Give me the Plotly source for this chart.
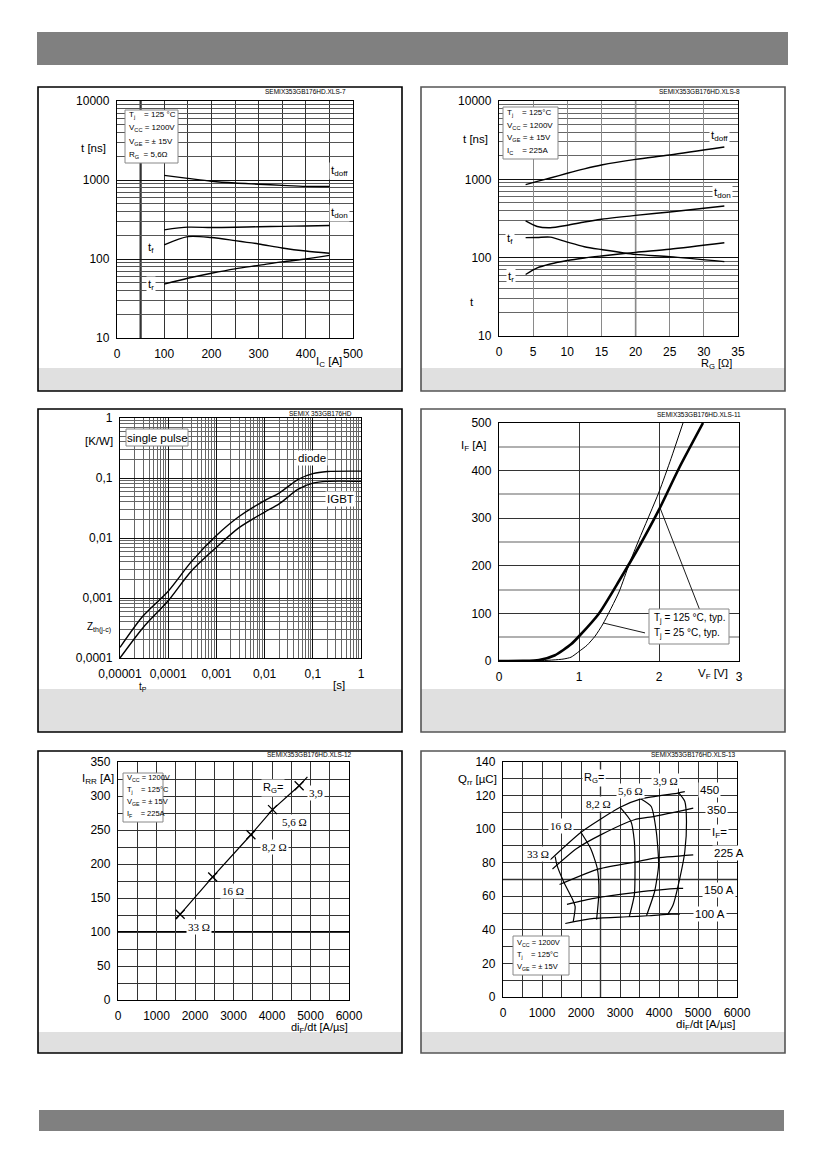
import plotly.graph_objects as go

W, H = 826, 1169
SANS = "Liberation Sans, Arial, sans-serif"
SERIF = "Liberation Serif, Times New Roman, serif"

# --- fig 1: switching times vs I_C ---
ic_a = [100, 150, 200, 250, 300, 350, 400, 450]
ic_tdoff = [1145, 1050, 965, 915, 885, 855, 830, 828]
ic_tdon = [234, 253, 250, 252, 256, 259, 262, 265]
ic_tf = [151, 192, 187, 171, 155, 138, 126, 118]
ic_tr = [48, 57, 66, 75, 83, 92, 100, 111]

# --- fig 2: switching times vs R_G ---
rg_ohm = [3.9, 5.6, 7.5, 10, 12.5, 15, 20, 25, 33]
rg_tdoff = [855, 940, 1040, 1194, 1360, 1524, 1800, 2046, 2588]
rg_tdon = [294, 250, 241, 259, 285, 309, 347, 383, 457]
rg_tf = [180, 181, 183, 158, 138, 127, 110, 103, 89]
rg_tr = [61, 74, 83, 92, 99, 105, 117, 128, 155]

# --- fig 3: transient thermal impedance ---
tp_s = [1e-5, 3e-5, 1e-4, 3e-4, 1e-3, 3e-3, 1e-2, 2e-2, 5e-2, 0.1, 0.2, 1]
zth_diode = [1.5e-4, 5e-4, 1.3e-3, 4e-3, 1.1e-2, 2.3e-2, 4.2e-2, 5.6e-2, 9.5e-2, 0.118, 0.128, 0.13]
zth_igbt = [1.0e-4, 3.2e-4, 9e-4, 2.8e-3, 7e-3, 1.5e-2, 2.7e-2, 3.7e-2, 6.5e-2, 0.082, 0.088, 0.088]
zth_ticks = [1e-4, 1e-3, 1e-2, 0.1, 1]
zth_ticktext = ["0,0001", "0,001", "0,01", "0,1", "1"]
tp_ticks = [1e-5, 1e-4, 1e-3, 1e-2, 0.1, 1]
tp_ticktext = ["0,00001", "0,0001", "0,001", "0,01", "0,1", "1"]

# --- fig 4: diode forward characteristic ---
vf_125 = [0, 0.3, 0.5, 0.7, 0.9, 1.0, 1.25, 1.5, 1.75, 2.0, 2.25, 2.55]
if_125 = [0, 0.2, 2, 12, 35, 52, 100, 168, 240, 318, 405, 500]
vf_25 = [0, 0.5, 0.8, 0.9, 1.0, 1.1, 1.2, 1.3, 1.5, 1.63, 1.75, 2.0, 2.15, 2.3]
if_25 = [0, 0.5, 4, 8, 20, 33, 52, 78, 145, 205, 255, 355, 425, 500]

# --- fig 5: peak reverse recovery current ---
didt_rr = [1614, 2460, 3453, 4014, 4705]
irr_a = [126, 181, 243, 280, 315]
rr_fit_didt = [1510, 1614, 2460, 3453, 4014, 4705, 4920]
rr_fit_irr = [119, 126, 181, 243, 280, 315, 328]
rr_labels = ["33 Ω", "16 Ω", "8,2 Ω", "5,6 Ω", "3,9"]

# --- fig 6: recovered charge ---
qrr_450_x = [1209, 2003, 3004, 3540, 4489, 4662]
qrr_450_y = [81.7, 98.2, 113, 118, 121.5, 122.3]
qrr_350_x = [1269, 1900, 2504, 3368, 3886, 4878]
qrr_350_y = [76.3, 88.6, 96.6, 105.6, 107.6, 112.5]
qrr_225_x = [1450, 2460, 3453, 3886, 4878]
qrr_225_y = [67, 76.3, 80.7, 82.7, 84.7]
qrr_150_x = [1640, 2331, 3367, 4490, 4619]
qrr_150_y = [55.2, 58.8, 62.2, 64.7, 64.7]
qrr_100_x = [1597, 2331, 3194, 3713, 4317, 4533]
qrr_100_y = [43.8, 46.8, 47.8, 48.4, 49.4, 49.4]
qrr_rg33_x = [1338, 1382, 1555, 1770, 1850, 1800]
qrr_rg33_y = [83.7, 78.7, 68.7, 58.8, 53.8, 44.8]
qrr_rg16_x = [1986, 2245, 2417, 2460, 2400]
qrr_rg16_y = [98.6, 88.6, 76.7, 62.7, 46.2]
qrr_rg82_x = [3004, 3281, 3368, 3385, 3368, 3238]
qrr_rg82_y = [113, 104.6, 92.6, 76.7, 60.8, 47.8]
qrr_rg56_x = [3540, 3800, 3930, 3990, 3886, 3679]
qrr_rg56_y = [118, 113.5, 98.6, 78.7, 62.7, 48.4]
qrr_rg39_x = [4489, 4662, 4705, 4662, 4533, 4360, 4230]
qrr_rg39_y = [122, 116.5, 104.6, 86.7, 70.7, 54.8, 49.4]


def px(x):
    return x / W


def py(y):
    return 1 - y / H


def minor_log(e0, e1):
    return [m * 10 ** e for e in range(e0, e1) for m in range(2, 10)]


fig = go.Figure()
curve = dict(color="black", width=1.4, shape="spline", smoothing=0.8)


def add_line(x, y, i, **kw):
    ln = dict(curve)
    ln.update(kw)
    fig.add_trace(go.Scatter(x=x, y=y, mode="lines", line=ln, hoverinfo="skip",
                             xaxis="x" + str(i), yaxis="y" + str(i)))


for yy in (ic_tdoff, ic_tdon, ic_tf, ic_tr):
    add_line(ic_a, yy, 1)
for yy in (rg_tdoff, rg_tdon, rg_tf, rg_tr):
    add_line(rg_ohm, yy, 2)
add_line(tp_s, zth_diode, 3)
add_line(tp_s, zth_igbt, 3)
add_line(vf_125, if_125, 4, width=2.6, smoothing=0.6)
add_line(vf_25, if_25, 4, width=1.0, smoothing=0.6)
add_line(rr_fit_didt, rr_fit_irr, 5, shape="linear", width=1.2)
fig.add_trace(go.Scatter(x=didt_rr, y=irr_a, mode="markers", hoverinfo="skip",
                         marker=dict(symbol="x-thin", size=9, line=dict(width=1.3, color="black")),
                         xaxis="x5", yaxis="y5"))
for xx, yy in ((qrr_450_x, qrr_450_y), (qrr_350_x, qrr_350_y), (qrr_225_x, qrr_225_y),
               (qrr_150_x, qrr_150_y), (qrr_100_x, qrr_100_y), (qrr_rg33_x, qrr_rg33_y),
               (qrr_rg16_x, qrr_rg16_y), (qrr_rg82_x, qrr_rg82_y), (qrr_rg56_x, qrr_rg56_y),
               (qrr_rg39_x, qrr_rg39_y)):
    add_line(xx, yy, 6, width=1.2, smoothing=0.6)

# --- axes ---
tickfont = dict(family=SANS, size=12, color="black")


def base_axis(x0, x1, **kw):
    d = dict(domain=[x0, x1], showline=True, mirror=True, linecolor="black", linewidth=1.3,
             ticks="", zeroline=False, showgrid=True, tickfont=tickfont, fixedrange=True,
             automargin=False, ticklabelstandoff=4)
    d.update(kw)
    return d


panels = {
    1: (117, 353, 101, 338),
    2: (499, 738, 101, 336),
    3: (120, 361, 418, 658),
    4: (499, 739, 423, 661),
    5: (118, 349, 762, 1000),
    6: (503, 737, 762, 997),
}

lay = {}
l, r, t, b = panels[1]
lay["xaxis"] = base_axis(px(l), px(r), anchor="y", range=[0, 500], dtick=100, tick0=0,
                         gridcolor="#333", gridwidth=1,
                         minor=dict(dtick=50, showgrid=True, gridcolor="#333", gridwidth=1))
lay["yaxis"] = base_axis(py(b), py(t), anchor="x", type="log", range=[1, 4],
                         tickvals=[10, 100, 1000, 10000], ticktext=["10", "100", "1000", "10000"],
                         gridcolor="#111", gridwidth=1.2,
                         minor=dict(tickmode="array", tickvals=minor_log(1, 4), showgrid=True,
                                    gridcolor="#555", gridwidth=1))
l, r, t, b = panels[2]
lay["xaxis2"] = base_axis(px(l), px(r), anchor="y2", range=[0, 35], dtick=5, tick0=0,
                          gridcolor="#8a8a8a", gridwidth=1.3)
lay["yaxis2"] = base_axis(py(b), py(t), anchor="x2", type="log", range=[1, 4],
                          tickvals=[10, 100, 1000, 10000], ticktext=["10", "100", "1000", "10000"],
                          gridcolor="#111", gridwidth=1.2,
                          minor=dict(tickmode="array", tickvals=minor_log(1, 4), showgrid=True,
                                     gridcolor="#666", gridwidth=1))
l, r, t, b = panels[3]
lay["xaxis3"] = base_axis(px(l), px(r), anchor="y3", type="log", range=[-5, 0],
                          tickvals=tp_ticks, ticktext=tp_ticktext, gridcolor="#111", gridwidth=1,
                          minor=dict(tickmode="array", tickvals=minor_log(-5, 0), showgrid=True,
                                     gridcolor="#666", gridwidth=1))
lay["yaxis3"] = base_axis(py(b), py(t), anchor="x3", type="log", range=[-4, 0],
                          tickvals=zth_ticks, ticktext=zth_ticktext, gridcolor="#111", gridwidth=1,
                          minor=dict(tickmode="array", tickvals=minor_log(-4, 0), showgrid=True,
                                     gridcolor="#666", gridwidth=1))
l, r, t, b = panels[4]
lay["xaxis4"] = base_axis(px(l), px(r), anchor="y4", range=[0, 3], dtick=1, tick0=0,
                          gridcolor="#333", gridwidth=0.8)
lay["yaxis4"] = base_axis(py(b), py(t), anchor="x4", range=[0, 500], dtick=100, tick0=0,
                          gridcolor="#333", gridwidth=0.8,
                          minor=dict(dtick=50, showgrid=True, gridcolor="#b0b0b0", gridwidth=1.6))
l, r, t, b = panels[5]
lay["xaxis5"] = base_axis(px(l), px(r), anchor="y5", range=[0, 6000], dtick=1000, tick0=0,
                          gridcolor="#333", gridwidth=1,
                          minor=dict(dtick=500, showgrid=True, gridcolor="#333", gridwidth=1))
lay["yaxis5"] = base_axis(py(b), py(t), anchor="x5", range=[0, 350], dtick=50, tick0=0,
                          gridcolor="#333", gridwidth=1,
                          minor=dict(dtick=25, showgrid=True, gridcolor="#333", gridwidth=1))
l, r, t, b = panels[6]
lay["xaxis6"] = base_axis(px(l), px(r), anchor="y6", range=[0, 6000], dtick=1000, tick0=0,
                          gridcolor="#333", gridwidth=1,
                          minor=dict(dtick=500, showgrid=True, gridcolor="#333", gridwidth=1))
lay["yaxis6"] = base_axis(py(b), py(t), anchor="x6", range=[0, 140], dtick=20, tick0=0,
                          gridcolor="#333", gridwidth=1,
                          minor=dict(dtick=10, showgrid=True, gridcolor="#333", gridwidth=1))

fig.update_layout(width=W, height=H, margin=dict(l=0, r=0, t=0, b=0, pad=0, autoexpand=False),
                  paper_bgcolor="white", plot_bgcolor="white", showlegend=False, **lay)

# --- page frame: header, footer, panel boxes ---
shapes = []


def prect(x0, y0, x1, y1, fill=None, line=None, lw=0):
    shapes.append(dict(type="rect", xref="paper", yref="paper", x0=px(x0), x1=px(x1),
                       y0=py(y1), y1=py(y0), fillcolor=fill or "rgba(0,0,0,0)",
                       line=dict(color=line or "rgba(0,0,0,0)", width=lw), layer="above"))


prect(37, 32, 788, 65, fill="#808080")
prect(39, 1110, 784, 1131, fill="#808080")
rows = [(87, 368, 391), (409, 689, 732), (751, 1032, 1053)]
for top, cap, bot in rows:
    for x0, x1, col in ((38, 402, "black"), (421, 785, "#555")):
        prect(x0, cap, x1, bot, fill="#e0e0e0")
        prect(x0, top, x1, bot, line=col, lw=1.6)

# emphasised grid lines
gl = dict(type="line", layer="below")
shapes.append(dict(gl, xref="x", yref="y domain", x0=50, x1=50, y0=0, y1=1, line=dict(color="black", width=2)))
shapes.append(dict(gl, xref="x2", yref="y2 domain", x0=20, x1=20, y0=0, y1=1, line=dict(color="black", width=1.3)))
shapes.append(dict(gl, xref="x5 domain", yref="y5", x0=0, x1=1, y0=100, y1=100, line=dict(color="black", width=1.8)))
shapes.append(dict(gl, xref="x6", yref="y6 domain", x0=2500, x1=2500, y0=0, y1=1, line=dict(color="#999", width=1.8)))
shapes.append(dict(gl, xref="x6 domain", yref="y6", x0=0, x1=1, y0=70, y1=70, line=dict(color="#999", width=1.8)))

# leader lines for fig 4
shapes.append(dict(type="line", xref="x4", yref="y4", x0=2.51, y0=107, x1=2.01, y1=323,
                   line=dict(color="black", width=0.9)))
shapes.append(dict(type="line", xref="x4", yref="y4", x0=1.825, y0=59, x1=1.30, y1=80,
                   line=dict(color="black", width=0.9)))

# info boxes
prect(125, 110, 178, 163, fill="white", line="#888", lw=1)
prect(503, 107, 558, 159, fill="white", line="#888", lw=1)
prect(123, 773, 163, 822, fill="white", line="#888", lw=1)
prect(513, 936, 569, 975, fill="white", line="#888", lw=1)
prect(649, 609, 729, 644, fill="white", line="#888", lw=1)
prect(126, 429, 188, 446, fill="white", line="#888", lw=1)

fig.update_layout(shapes=shapes)

# --- texts ---
anns = []


def ptext(text, x, y, size=11.5, xanchor="center", family=SANS, bg=None):
    a = dict(text=text, xref="paper", yref="paper", x=px(x), y=py(y), showarrow=False,
             xanchor=xanchor, yanchor="middle", font=dict(family=family, size=size, color="black"),
             borderpad=1)
    if bg:
        a["bgcolor"] = bg
    anns.append(a)


def dtext(text, x, y, i, size=11.5, family=SANS, bg="white", xanchor="center"):
    anns.append(dict(text=text, xref="x" + str(i), yref="y" + str(i), x=x, y=y, showarrow=False,
                     xanchor=xanchor, yanchor="middle", bgcolor=bg, borderpad=1,
                     font=dict(family=family, size=size, color="black")))


nb = "\u00a0"
# codes
ptext("SEMIX353GB176HD.XLS-7", 348, 91, size=6.5, xanchor="right")
ptext("SEMIX353GB176HD.XLS-8", 742, 91, size=6.5, xanchor="right")
ptext("SEMIX 353GB176HD", 354, 413, size=6.5, xanchor="right")
ptext("SEMIX353GB176HD.XLS-11", 743, 414, size=6.5, xanchor="right")
ptext("SEMIX353GB176HD.XLS-12", 354, 754, size=6.5, xanchor="right")
ptext("SEMIX353GB176HD.XLS-13", 738, 754, size=6.5, xanchor="right")

# fig 1
ptext("t [ns]", 93, 148)
ptext("I<sub>C</sub> [A]", 329, 362)
ptext("t<sub>doff</sub>", 339, 171, bg="white")
ptext("t<sub>don</sub>", 339, 213, bg="white")
ptext("t<sub>f</sub>", 151, 248, bg="white")
ptext("t<sub>r</sub>", 151, 285, bg="white")
for k, s in enumerate(["T<sub>j</sub>" + nb * 4 + "= 125 °C", "V<sub>CC</sub> = 1200V",
                       "V<sub>GE</sub> = ± 15V", "R<sub>G</sub>" + nb * 2 + "= 5,6Ω"]):
    ptext(s, 127, 115 + 13.5 * k, size=8, xanchor="left")

# fig 2
ptext("t [ns]", 475, 139)
ptext("R<sub>G</sub> [Ω]", 716, 364, size=11)
ptext("t", 472, 302)
ptext("t<sub>doff</sub>", 719, 136, bg="white")
ptext("t<sub>don</sub>", 722, 193, bg="white")
ptext("t<sub>f</sub>", 510, 239, bg="white")
ptext("t<sub>r</sub>", 511, 277, bg="white")
for k, s in enumerate(["T<sub>j</sub>" + nb * 4 + "= 125°C", "V<sub>CC</sub> = 1200V",
                       "V<sub>GE</sub> = ± 15V", "I<sub>C</sub>" + nb * 4 + "= 225A"]):
    ptext(s, 505, 113 + 12.7 * k, size=8, xanchor="left")

# fig 3
ptext("[K/W]", 99, 441)
ptext("Z<sub>th(j-c)</sub>", 99, 627, size=10)
ptext("t<sub>P</sub>", 143, 687, size=10)
ptext("[s]", 339, 685)
ptext("single pulse", 157, 438)
ptext("diode", 312, 458, bg="white")
ptext("IGBT", 340, 499, bg="white")

# fig 4
ptext("I<sub>F</sub> [A]", 473, 446)
ptext("V<sub>F</sub> [V]", 713, 674)
ptext("T<sub>j</sub> = 125 °C, typ.", 652, 618, size=10, xanchor="left")
ptext("T<sub>j</sub> = 25 °C, typ.", 652, 633, size=10, xanchor="left")

# fig 5
ptext("I<sub>RR</sub> [A]", 98, 779)
ptext("di<sub>F</sub>/dt [A/µs]", 319, 1028, size=11)
for k, s in enumerate(["V<sub>CC</sub> = 1200V", "T<sub>j</sub>" + nb * 4 + "= 125°C",
                       "V<sub>GE</sub> = ± 15V", "I<sub>F</sub>" + nb * 4 + "= 225A"]):
    ptext(s, 125, 778 + 12 * k, size=7.5, xanchor="left")
rr_lab_x = [2104, 2987, 4052, 4597, 5143]
rr_lab_y = [107, 160, 225, 262, 304]
for s, x, y in zip(rr_labels, rr_lab_x, rr_lab_y):
    dtext(s, x, y, 5, size=11, family=SERIF)
dtext("R<sub>G</sub>=", 4026, 312, 5, size=11)

# fig 6
ptext("Q<sub>rr</sub> [µC]", 477, 780)
ptext("di<sub>F</sub>/dt [A/µs]", 706, 1025)
for k, s in enumerate(["V<sub>CC</sub> = 1200V", "T<sub>j</sub>" + nb * 4 + "= 125°C",
                       "V<sub>GE</sub> = ± 15V"]):
    ptext(s, 515, 943 + 12 * k, size=7.5, xanchor="left")
q_lab = ["R<sub>G</sub>=", "3,9 Ω", "5,6 Ω", "8,2 Ω", "16 Ω", "33 Ω"]
q_lab_x = [2331, 4160, 3263, 2443, 1493, 906]
q_lab_y = [130.5, 128.5, 122.5, 115, 101.6, 85]
for k, (s, x, y) in enumerate(zip(q_lab, q_lab_x, q_lab_y)):
    dtext(s, x, y, 6, size=11, family=SANS if k == 0 else SERIF)
if_lab = ["450", "350", "I<sub>F</sub>=", "225 A", "150 A", "100 A"]
if_lab_x = [5007, 5180, 5309, 5352, 5093, 4878]
if_lab_y = [123.3, 111.5, 98, 85.6, 64, 49.4]
for s, x, y in zip(if_lab, if_lab_x, if_lab_y):
    dtext(s, x, y, 6, size=11.5, xanchor="left")

fig.update_layout(annotations=anns)
fig.write_html("out.html", config={"displayModeBar": False},
               post_script="document.body.style.margin='0';")
